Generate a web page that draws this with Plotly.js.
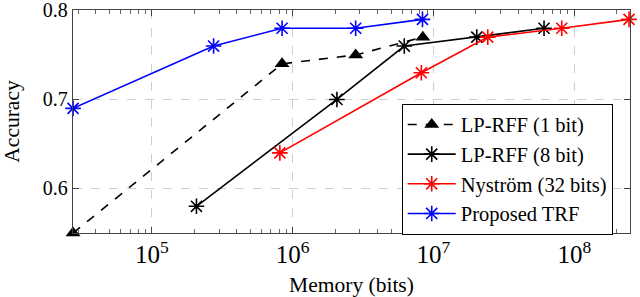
<!DOCTYPE html>
<html>
<head>
<meta charset="utf-8">
<script src="https://cdn.plot.ly/plotly-3.0.1.min.js"></script>
<style>html,body{margin:0;padding:0;background:#fff;}#chart{width:640px;height:297px;}</style>
</head>
<body>
<div id="chart"></div>
<script>
// Data
const seriesNames = ["LP-RFF (1 bit)", "LP-RFF (8 bit)", "Nyström (32 bits)", "Proposed TRF"];
const lp1Mem = [2.75e4, 8.4e5, 2.8e6, 8.4e6];
const lp1Acc = [0.55, 0.74, 0.75, 0.77];
const lp8Mem = [2.07e5, 2.06e6, 6.2e6, 2.03e7, 6.1e7];
const lp8Acc = [0.58, 0.70, 0.76, 0.77, 0.78];
const nysMem = [8.1e5, 8.2e6, 2.43e7, 8.15e7, 2.45e8];
const nysAcc = [0.64, 0.73, 0.77, 0.78, 0.79];
const trfMem = [2.75e4, 2.74e5, 8.4e5, 2.8e6, 8.35e6];
const trfAcc = [0.69, 0.76, 0.78, 0.78, 0.79];
const yTickVals = [0.6, 0.7, 0.8];
const yTickText = ["0.6", "0.7", "0.8"];

const FONT = "Liberation Serif";
const star = (color) => ({symbol: "asterisk-open", size: 13, line: {color: color, width: 1.6}, color: color});

const traces = [
  {x: lp1Mem, y: lp1Acc, name: seriesNames[0], mode: "lines+markers", cliponaxis: false,
   line: {color: "#000", width: 1.6, dash: "dash"},
   marker: {symbol: "triangle-up", size: 13, color: "#000"}},
  {x: lp8Mem, y: lp8Acc, name: seriesNames[1], mode: "lines+markers", cliponaxis: false,
   line: {color: "#000", width: 1.6}, marker: star("#000")},
  {x: nysMem, y: nysAcc, name: seriesNames[2], mode: "lines+markers", cliponaxis: false,
   line: {color: "#ff0000", width: 1.6}, marker: star("#ff0000")},
  {x: trfMem, y: trfAcc, name: seriesNames[3], mode: "lines+markers", cliponaxis: false,
   line: {color: "#0000ff", width: 1.6}, marker: star("#0000ff")}
];

const layout = {
  width: 640, height: 297,
  margin: {l: 73, r: 10, t: 10, b: 64},
  paper_bgcolor: "#fff", plot_bgcolor: "#fff",
  font: {family: FONT, size: 20, color: "#000"},
  showlegend: true,
  legend: {x: 0.969, xanchor: "right", y: 0.58, yanchor: "top",
           bgcolor: "#fff", bordercolor: "#000", borderwidth: 1,
           font: {family: FONT, size: 20.5, color: "#000"}, tracegroupgap: 0, itemwidth: 48},
  xaxis: {
    type: "log", range: [4.439, 8.396], dtick: 1, exponentformat: "power", showexponent: "all",
    ticks: "inside", ticklen: 6, tickcolor: "#444", mirror: "ticks",
    showline: true, linecolor: "#444", linewidth: 1.2,
    showgrid: true, gridcolor: "#cfcfcf", griddash: "dash", gridwidth: 1,
    zeroline: false, ticklabeloverflow: "allow",
    minor: {ticks: "inside", ticklen: 4, tickcolor: "#666", showgrid: false},
    tickfont: {family: FONT, size: 20, color: "#000"},
    title: {text: "Memory (bits)", font: {family: FONT, size: 21.5, color: "#000"}, standoff: 10}
  },
  yaxis: {
    range: [0.55, 0.8005], tickvals: yTickVals, ticktext: yTickText,
    ticks: "inside", ticklen: 6, tickcolor: "#444", mirror: "ticks",
    showline: true, linecolor: "#444", linewidth: 1.2,
    showgrid: true, gridcolor: "#cfcfcf", griddash: "dash", gridwidth: 1,
    zeroline: false, ticklabeloverflow: "allow",
    tickfont: {family: FONT, size: 20, color: "#000"},
    title: {text: "Accuracy", font: {family: FONT, size: 21.5, color: "#000"}, standoff: 18}
  }
};

Plotly.newPlot("chart", traces, layout, {displayModeBar: false, staticPlot: true});
</script>
</body>
</html>
